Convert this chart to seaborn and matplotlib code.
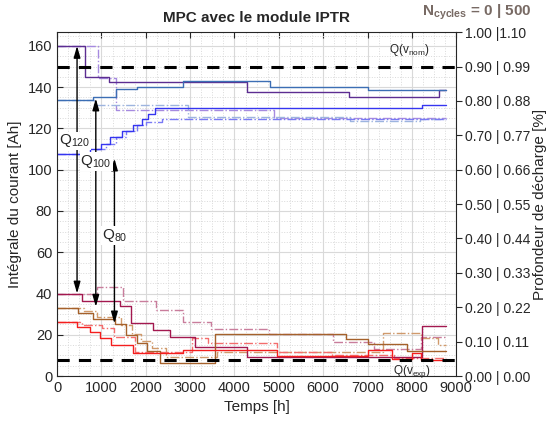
import numpy as np
import matplotlib
matplotlib.use("Agg")
from matplotlib import pyplot as plt
from matplotlib.ticker import MultipleLocator
import seaborn as sns

# --- step data (time [h], value [Ah]) ---
t_q120_top = [0, 620, 1160, 4280, 6590, 8620, 8760]
v_q120_top = [160, 144.7, 142.6, 137.7, 135.3, 138.6, 138.6]
t_q100_top = [0, 820, 1330, 1800, 2850, 4810, 7020, 8760]
v_q100_top = [134, 135.3, 139, 140.3, 143, 140, 138.6, 138.6]
t_q80_top = [0, 745, 985, 1195, 1460, 1720, 1925, 2050, 2210, 8220, 8760]
v_q80_top = [107.4, 109.8, 112.7, 115.9, 118.7, 121.9, 124.8, 127, 130, 131.6, 131.6]

t_q120_top_500 = [0, 920, 1330, 4900, 8760]
v_q120_top_500 = [160, 144.5, 128.9, 125.3, 125.3]
t_q100_top_500 = [0, 840, 2955, 6610, 8190, 8760]
v_q100_top_500 = [134, 131.6, 125.5, 123.5, 124.5, 124.5]
t_q80_top_500 = [0, 890, 1100, 1330, 1560, 1800, 2000, 2360, 8760]
v_q80_top_500 = [107.4, 109.8, 112.7, 115.9, 118.7, 121.9, 123.3, 124.8, 124.8]

t_q120_bot = [0, 570, 1420, 1670, 2170, 2550, 3100, 4280, 8225, 8760]
v_q120_bot = [39.7, 36.5, 33.9, 25.5, 22.3, 19, 14.2, 9.4, 24.2, 24.2]
t_q100_bot = [0, 480, 820, 1310, 1555, 1800, 2020, 2320, 3560, 6520, 7020, 7890, 8760]
v_q100_bot = [32.8, 30.7, 27.5, 25, 19.9, 16.1, 12.1, 6.4, 20.3, 17.8, 15.5, 12.3, 12.3]
t_q80_bot = [0, 440, 745, 970, 1220, 1710, 2850, 4960, 7000, 7550, 8000, 8200, 8760]
v_q80_bot = [26.3, 23.9, 21.5, 18.3, 15, 11, 12.6, 9.7, 12.6, 8.2, 11.3, 7.7, 7.7]

t_q120_bot_500 = [0, 895, 1480, 2230, 2850, 3470, 4770, 6220, 7140, 8200, 8760]
v_q120_bot_500 = [39.7, 43.3, 36.2, 31.8, 26, 22.8, 20.3, 16.6, 13, 19, 19]
t_q100_bot_500 = [0, 600, 900, 1450, 1700, 1900, 2150, 2450, 3600, 7360, 8200, 8600, 8760]
v_q100_bot_500 = [33.1, 31.5, 28.5, 24.5, 20.5, 17, 13.5, 9, 11.8, 20.7, 18.3, 15, 15]
t_q80_bot_500 = [0, 560, 1010, 1290, 1760, 3040, 3400, 4960, 6200, 7600, 8760]
v_q80_bot_500 = [26.3, 24.7, 23.4, 19, 11.8, 18.6, 15.8, 11.8, 10.3, 8.8, 8.8]

q_nom = 150
q_exp = 8

right_ticks = [0.0, 0.1, 0.2, 0.3, 0.4, 0.5, 0.6, 0.7, 0.8, 0.9, 1.0]
right_labels = ["0.00 | 0.00", "0.10 | 0.11", "0.20 | 0.22", "0.30 | 0.33", "0.40 | 0.44",
                "0.50 | 0.55", "0.60 | 0.66", "0.70 | 0.77", "0.80 | 0.88", "0.90 | 0.99",
                "1.00 |1.10"]

series = [
    (t_q120_bot_500, v_q120_bot_500, "#c97d9c", "-."),
    (t_q100_bot_500, v_q100_bot_500, "#d09a6c", "-."),
    (t_q80_bot_500, v_q80_bot_500, "#f46d6d", "-."),
    (t_q120_top_500, v_q120_top_500, "#a68ae0", "-."),
    (t_q100_top_500, v_q100_top_500, "#9db4df", "-."),
    (t_q80_top_500, v_q80_top_500, "#7a7af5", "-."),
    (t_q120_bot, v_q120_bot, "#a3184f", "-"),
    (t_q100_bot, v_q100_bot, "#a5612b", "-"),
    (t_q80_bot, v_q80_bot, "#f41e1e", "-"),
    (t_q120_top, v_q120_top, "#5c2d91", "-"),
    (t_q100_top, v_q100_top, "#3c6eb4", "-"),
    (t_q80_top, v_q80_top, "#3535f0", "-"),
]

sns.set_style("white")
plt.rcParams['font.family'] = ['Liberation Sans', 'DejaVu Sans']
plt.rcParams['mathtext.fontset'] = 'custom'
plt.rcParams['mathtext.rm'] = 'Liberation Sans'
plt.rcParams['mathtext.bf'] = 'Liberation Sans:bold'

fig = plt.figure(figsize=(5.49, 4.23), dpi=100)
ax = fig.add_axes([0.104, 0.111, 0.727, 0.813])

for t, v, c, ls in series:
    sns.lineplot(x=t, y=v, ax=ax, color=c, linestyle=ls, linewidth=1.0,
                 drawstyle='steps-post', estimator=None)

ax.axhline(q_nom, color='black', linestyle=(0, (4, 3)), linewidth=2.2)
ax.axhline(q_exp, color='black', linestyle=(0, (4, 3)), linewidth=2.2)
ax.text(7950, 154, r"Q(v$_{\rm nom}$)", fontsize=8.5, ha='center', va='bottom')
ax.text(8000, 6.5, r"Q(v$_{\rm exp}$)", fontsize=8.5, ha='center', va='top')

# double arrows with labels
arrows = [(450, 40, 160), (873, 33.6, 134.5), (1293, 25.5, 105.4)]
for x, y0, y1 in arrows:
    ax.annotate('', xy=(x, y0), xytext=(x, y1),
                arrowprops=dict(arrowstyle='<|-|>,head_length=0.7,head_width=0.2',
                                color='black', lw=1.0, shrinkA=0, shrinkB=0))
for x, y, s in [(400, 114, r"Q$_{\rm 120}$"), (880, 104, r"Q$_{\rm 100}$"), (1290, 68, r"Q$_{\rm 80}$")]:
    ax.text(x, y, s, fontsize=11, ha='center', va='center',
            bbox=dict(facecolor='white', edgecolor='none', pad=0.5))

ax.set_xlim(0, 9000)
ax.set_ylim(0, q_nom / 0.9)
ax.set_xticks(np.arange(0, 9001, 1000))
ax.set_yticks(np.arange(0, 161, 20))
ax.xaxis.set_minor_locator(MultipleLocator(250))
ax.yaxis.set_minor_locator(MultipleLocator(5))
ax.grid(which='major', color='#d9d9d9', linewidth=0.8)
ax.grid(which='minor', color='#d9d9d9', linestyle=':', linewidth=0.7)
ax.set_axisbelow(True)
ax.tick_params(which='major', direction='in', length=4, top=True, right=False,
               labelsize=10.5, colors='#262626')
ax.tick_params(which='minor', length=0)
for sp in ax.spines.values():
    sp.set_color('#262626')
    sp.set_linewidth(0.8)
ax.set_xlabel("Temps [h]", fontsize=11)
ax.set_ylabel("Intégrale du courant [Ah]", fontsize=11)
ax.set_title("MPC avec le module IPTR", fontsize=11, fontweight='bold', pad=7)

ax2 = ax.twinx()
ax2.set_ylim(0, 1)
ax2.set_yticks(right_ticks)
ax2.set_yticklabels(right_labels)
ax2.tick_params(direction='out', length=4, pad=2, labelsize=10, colors='#262626')
ax2.grid(False)
ax2.set_ylabel("Profondeur de décharge [%]", fontsize=11, va='center')
ax2.yaxis.set_label_coords(1.21, 0.5)
for sp in ax2.spines.values():
    sp.set_visible(False)

fig.text(0.768, 0.972, r"N$_{\mathbf{cycles}}$ = 0 | 500", fontsize=11,
         fontweight='bold', color='#786a64', ha='left', va='center')

plt.savefig('out.png', dpi=100)
